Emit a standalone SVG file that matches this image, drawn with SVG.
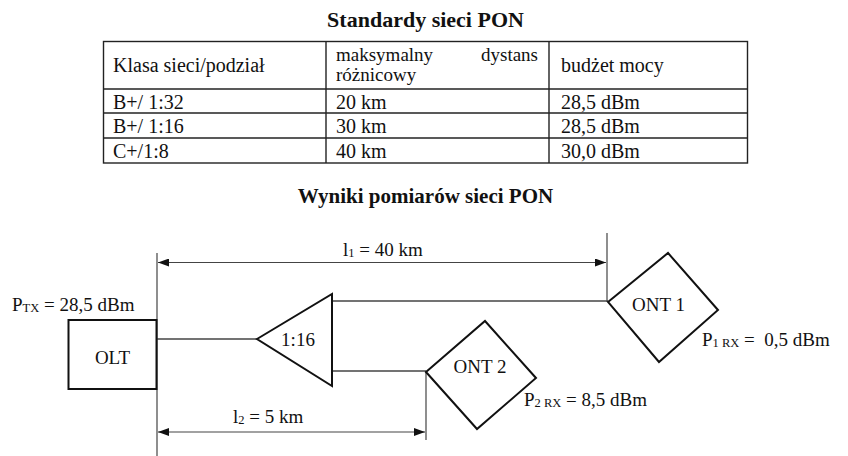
<svg xmlns="http://www.w3.org/2000/svg" width="848" height="456" viewBox="0 0 848 456">
<style>
  text { font-family: "Liberation Serif", "Times New Roman", serif; fill: #111; }
  .title { font-size: 22px; font-weight: bold; text-anchor: middle; }
  .cell { font-size: 20px; }
  .tight { font-size: 19px; }
  .lbl { font-size: 19px; }
  .mid { text-anchor: middle; }
  .sub { font-size: 12.5px; }
  .grid { stroke: #222; stroke-width: 1.4; fill: none; }
  .shape { stroke: #111; stroke-width: 2; fill: #fff; }
  .wire { stroke: #444; stroke-width: 1.4; fill: none; }
  .dim { stroke: #444; stroke-width: 1.2; fill: none; }
</style>
<defs>
  <marker id="arr" viewBox="0 0 11 8" refX="11" refY="4" markerWidth="11" markerHeight="8" markerUnits="userSpaceOnUse" orient="auto-start-reverse">
    <path d="M0,0 L11,4 L0,8 z" fill="#111"/>
  </marker>
</defs>
<rect width="848" height="456" fill="#fff"/>

<!-- Table -->
<g id="table">
  <text class="title" x="425.5" y="26.5">Standardy sieci PON</text>
  <rect class="grid" x="103.5" y="41.5" width="644" height="121.5"/>
  <line class="grid" x1="103.5" y1="89" x2="747.5" y2="89"/>
  <line class="grid" x1="103.5" y1="113" x2="747.5" y2="113"/>
  <line class="grid" x1="103.5" y1="138" x2="747.5" y2="138"/>
  <line class="grid" x1="326" y1="41.5" x2="326" y2="163"/>
  <line class="grid" x1="549" y1="41.5" x2="549" y2="163"/>
  <text class="cell" x="113" y="72">Klasa sieci/podział</text>
  <text class="cell tight" x="336" y="61">maksymalny</text>
  <text class="cell tight" x="538" y="61" text-anchor="end">dystans</text>
  <text class="cell tight" x="336" y="81">różnicowy</text>
  <text class="cell" x="561" y="72">budżet mocy</text>
  <text class="cell" x="113" y="109">B+/ 1:32</text>
  <text class="cell" x="336" y="109">20 km</text>
  <text class="cell" x="561" y="109">28,5 dBm</text>
  <text class="cell" x="113" y="133">B+/ 1:16</text>
  <text class="cell" x="336" y="133">30 km</text>
  <text class="cell" x="561" y="133">28,5 dBm</text>
  <text class="cell" x="113" y="158">C+/1:8</text>
  <text class="cell" x="336" y="158">40 km</text>
  <text class="cell" x="561" y="158">30,0 dBm</text>
</g>

<text class="title" x="425.5" y="203" style="font-size:21px">Wyniki pomiarów sieci PON</text>

<!-- Connectors and dimensions -->
<g id="connectors">
  <line class="dim" x1="157" y1="253" x2="157" y2="456"/>
  <line class="dim" x1="607" y1="233" x2="607" y2="302"/>
  <line class="dim" x1="426" y1="371" x2="426" y2="440"/>
  <line class="dim" x1="158" y1="262.5" x2="606" y2="262.5" marker-start="url(#arr)" marker-end="url(#arr)"/>
  <line class="dim" x1="158" y1="432" x2="425" y2="432" marker-start="url(#arr)" marker-end="url(#arr)"/>
  <line class="wire" x1="157" y1="339" x2="257" y2="339"/>
  <line class="wire" x1="332" y1="301" x2="608" y2="301"/>
  <line class="wire" x1="332" y1="371" x2="426" y2="371"/>
</g>

<g id="olt">
  <rect class="shape" x="68.5" y="320" width="88" height="69"/>
  <text class="lbl mid" x="112.5" y="364">OLT</text>
  <text class="lbl" x="12" y="310.5">P<tspan class="sub" dy="1">TX</tspan><tspan dy="-1"> = 28,5 dBm</tspan></text>
</g>

<g id="splitter">
  <polygon class="shape" points="257,339 332,294 332,386"/>
  <text class="lbl mid" x="298" y="345.5">1:16</text>
</g>

<g id="ont1">
  <polygon class="shape" points="608,302 668,253 718,310 659,362"/>
  <text class="lbl mid" x="658.5" y="311">ONT 1</text>
  <text class="lbl" x="702" y="345.5" xml:space="preserve">P<tspan class="sub" dy="1">1 RX</tspan><tspan dy="-1"> =  0,5 dBm</tspan></text>
</g>

<g id="ont2">
  <polygon class="shape" points="426,372 485,321 536,378 477,429"/>
  <text class="lbl mid" x="480" y="372.5">ONT 2</text>
  <text class="lbl" x="524" y="406">P<tspan class="sub" dy="1">2 RX</tspan><tspan dy="-1"> = 8,5 dBm</tspan></text>
</g>

<g id="dim-labels">
  <text class="lbl" x="343" y="255.5">l<tspan class="sub" dy="1">1</tspan><tspan dy="-1"> = 40 km</tspan></text>
  <text class="lbl" x="233" y="422.5">l<tspan class="sub" dy="1">2</tspan><tspan dy="-1"> = 5 km</tspan></text>
</g>
</svg>
